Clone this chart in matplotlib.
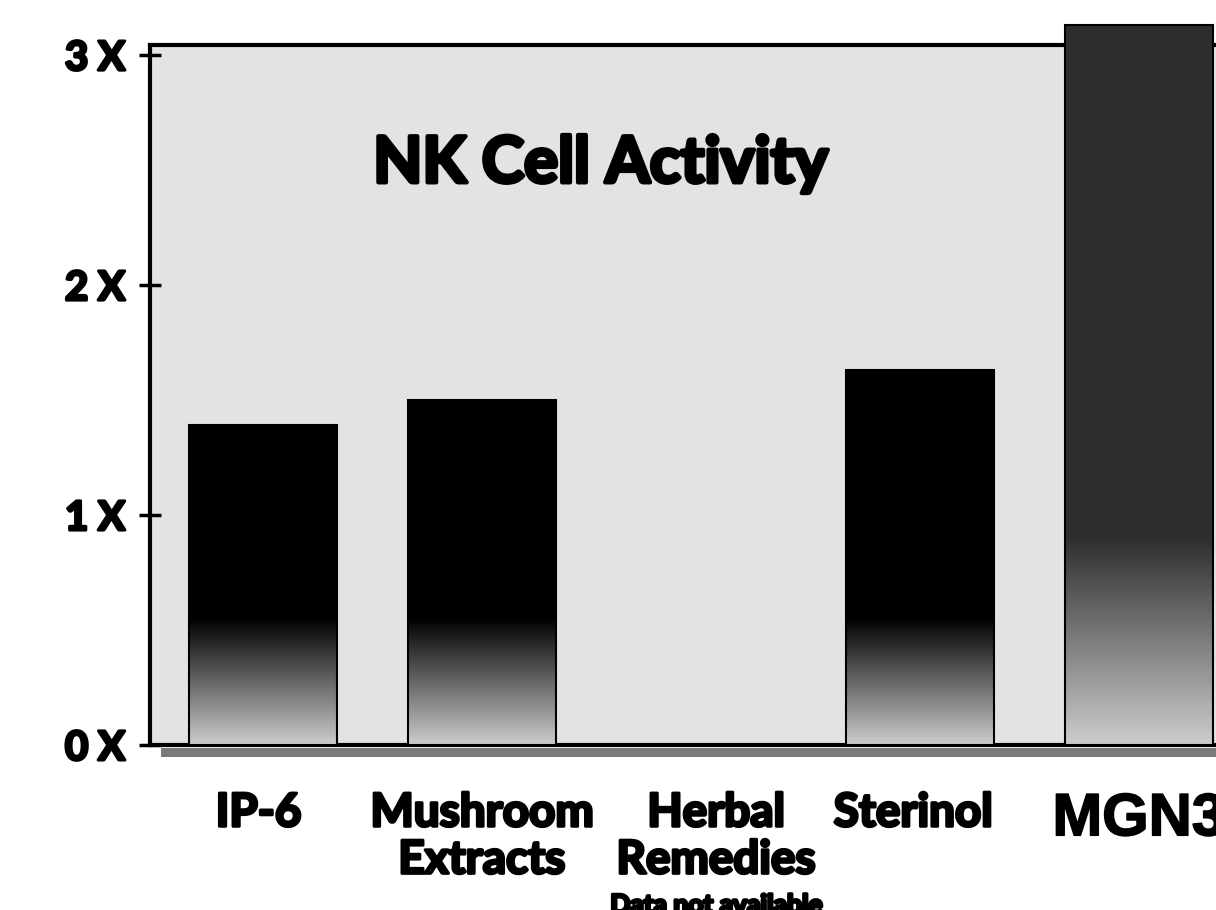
import numpy as np
import matplotlib
matplotlib.use("Agg")
import matplotlib.pyplot as plt
import matplotlib.patheffects as pe
from matplotlib.font_manager import FontProperties
from matplotlib.patches import Rectangle

# values (multiples of baseline NK activity)
categories = ["IP-6", "Mushroom\nExtracts", "Herbal\nRemedies", "Sterinol", "MGN3"]
activity = [1.39, 1.50, np.nan, 1.63, 3.13]
ytick_vals = [0, 1, 2, 3]
ytick_labels = ["0 X", "1 X", "2 X", "3 X"]
title = "NK Cell Activity"
note = "Data not available"

plt.rcParams['font.family'] = ['Lato', 'DejaVu Sans']
heavy = [pe.withStroke(linewidth=2.2, foreground="black")]

fig = plt.figure(figsize=(12.16, 9.10), dpi=100, facecolor="white")
ax = fig.add_axes([0.1234, 0.1813, 0.906, 0.769])
ax.set_facecolor("#e3e3e3")

x = np.arange(len(categories))
bars = ax.bar(x, np.nan_to_num(activity), width=0.675, facecolor="none",
              edgecolor="black", linewidth=1.5, zorder=4, clip_on=False)

# gradient fill: dark top, fading to light grey near the base
top_shade = [0.0, 0.0, 0.0, 0.0, 0.18]
fade_len = [0.55, 0.55, 0.55, 0.55, 0.9]
for b, ts, fl in zip(bars, top_shade, fade_len):
    h = b.get_height()
    if h <= 0:
        continue
    yy = np.linspace(h, 0, 300)
    shade = np.where(yy > fl, ts, ts + (0.8 - ts) * (1 - yy / fl))
    img = shade.reshape(-1, 1)
    ax.imshow(img, cmap="gray", vmin=0, vmax=1, aspect="auto",
              extent=[b.get_x(), b.get_x() + b.get_width(), 0, h],
              zorder=3, clip_on=False, interpolation="bilinear")

ax.set_xlim(-0.516, 4.516)
ax.set_ylim(0, 3.043)

for side in ["top", "left", "bottom"]:
    ax.spines[side].set_linewidth(3)
ax.spines["right"].set_visible(False)

# shadow band under the base line
ax.add_patch(Rectangle((0.01, -0.017), 1.0, 0.013, transform=ax.transAxes,
                       facecolor="#7a7a7a", edgecolor="none", clip_on=False))

ax.set_yticks(ytick_vals)
ax.set_yticklabels(ytick_labels, fontsize=29, fontweight="bold")
ax.tick_params(axis="y", direction="inout", length=16, width=2.5, pad=10)
for t in ax.get_yticklabels():
    t.set_path_effects(heavy)

# labels sit a touch off the bar centres in the scan
ax.set_xticks(x + np.array([-0.02, 0.0, 0.07, -0.03, 0.0]))
ax.set_xticklabels(categories, fontsize=33, fontweight="bold", linespacing=1.15)
ax.tick_params(axis="x", length=0, pad=34)
lbls = ax.get_xticklabels()
for t in lbls[:-1]:
    t.set_path_effects(heavy)
lbls[-1].set_fontproperties(FontProperties(family=["Liberation Sans", "DejaVu Sans"],
                                           weight="bold", size=43))
lbls[-1].set_path_effects([pe.withStroke(linewidth=1.2, foreground="black")])

ax.text(2.07, -0.645, note, transform=ax.transData, ha="center", va="top",
        fontsize=19, fontweight="bold", path_effects=heavy)

ax.text(0.409, 0.804, title, transform=ax.transAxes, ha="center", va="baseline",
        fontsize=46, fontweight="bold", path_effects=[pe.withStroke(linewidth=3, foreground="black")])

fig.savefig("out.png", dpi=100, facecolor="white")
